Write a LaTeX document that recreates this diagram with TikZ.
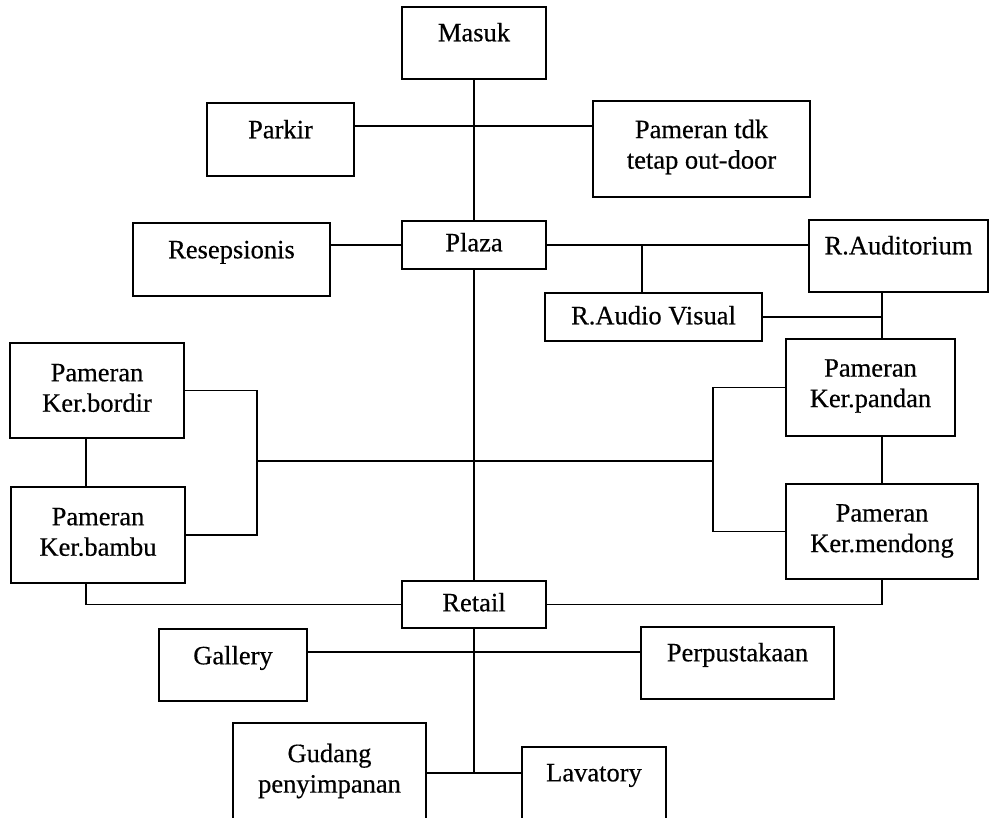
\documentclass[tikz,border=0pt]{standalone}
\usepackage{fontspec}
\setmainfont{Liberation Serif}[FakeBold=0.4]
\begin{document}
\begin{tikzpicture}[x=1pt,y=-1pt,
  room/.style 2 args={draw=black, line width=1.9pt, inner sep=0pt, outer sep=0pt,
    minimum width=#1pt, minimum height=#2pt},
  oneline/.style={inner sep=0pt, font=\fontsize{26.5}{30.5}\selectfont,
    text height=0.68em, text depth=0.22em},
  twoline/.style={inner sep=0pt, align=center, font=\fontsize{26.5}{30.5}\selectfont},
  link/.style={line width=1.9pt}]

\useasboundingbox (0,0) rectangle (993,818);
\fill[white] (0,0) rectangle (993,818);
\begin{scope}
\clip (0,0) rectangle (993,818);

% rooms
\node[room={144}{72}]  (masuk)       at (474,43)    {};
\node[room={147}{73}]  (parkir)      at (280.5,139.5) {};
\node[room={217}{96}]  (outdoor)     at (701.5,149) {};
\node[room={144}{48}]  (plaza)       at (474,245)   {};
\node[room={197}{73}]  (resepsionis) at (231.5,259.5) {};
\node[room={179}{72}]  (auditorium)  at (898.5,256) {};
\node[room={217}{48}]  (audiovisual) at (653.5,317) {};
\node[room={169}{97}]  (pandan)      at (870.5,387.5) {};
\node[room={192}{95}]  (mendong)     at (882,531.5) {};
\node[room={174}{95}]  (bordir)      at (97,390.5)  {};
\node[room={174}{96}]  (bambu)       at (98,535)    {};
\node[room={144}{47}]  (retail)      at (474,604.5) {};
\node[room={148}{72}]  (gallery)     at (233,665)   {};
\node[room={193}{72}]  (perpus)      at (737.5,663) {};
\node[room={193}{107}] (gudang)      at (329.5,776.5) {};
\node[room={144}{83}]  (lavatory)    at (594,788.5) {};

% room names
\node[oneline] (masuk-t)       at ([yshift=-32pt]masuk.north)       {Masuk};
\node[oneline] (parkir-t)      at ([yshift=-33pt]parkir.north)      {Parkir};
\node[twoline] (outdoor-t)     at ([yshift=-46pt]outdoor.north)     {Pameran tdk\\tetap out-door};
\node[oneline] (plaza-t)       at ([yshift=-28pt]plaza.north)       {Plaza};
\node[oneline] (resepsionis-t) at ([yshift=-33pt]resepsionis.north) {Resepsionis};
\node[oneline] (auditorium-t)  at ([yshift=-32pt]auditorium.north)  {R.Auditorium};
\node[oneline] (audiovisual-t) at ([yshift=-29pt]audiovisual.north) {R.Audio Visual};
\node[twoline] (pandan-t)      at ([yshift=-47pt]pandan.north)      {Pameran\\Ker.pandan};
\node[twoline] (mendong-t)     at ([yshift=-47pt]mendong.north)     {Pameran\\Ker.mendong};
\node[twoline] (bordir-t)      at ([yshift=-45pt]bordir.north)      {Pameran\\Ker.bordir};
\node[twoline] (bambu-t)       at ([yshift=-45pt]bambu.north)       {Pameran\\Ker.bambu};
\node[oneline] (retail-t)      at ([yshift=-28pt]retail.north)      {Retail};
\node[oneline] (gallery-t)     at ([yshift=-33pt]gallery.north)     {Gallery};
\node[oneline] (perpus-t)      at ([yshift=-32pt]perpus.north)      {Perpustakaan};
\node[twoline] (gudang-t)      at ([yshift=-48pt]gudang.north)      {Gudang\\penyimpanan};
\node[oneline] (lavatory-t)    at ([yshift=-32pt]lavatory.north)    {Lavatory};

% junctions and guide lines
\coordinate (jpark)  at (474,126);
\coordinate (avx)    at (642,245);
\coordinate (rv)     at (882,0);
\coordinate (lv)     at (86,0);
\coordinate (lb)     at (257,461);
\coordinate (rb)     at (713,461);
\coordinate (jgal)   at (474,652);
\coordinate (jstore) at (474,773);

% connections
\draw[link] (masuk.south) -- (plaza.north);
\draw[link] (parkir.east |- jpark) -- (outdoor.west |- jpark);
\draw[link] (resepsionis.east |- plaza.west) -- (plaza.west);
\draw[link] (plaza.east) -- (plaza.east -| auditorium.west);
\draw[link] (avx) -- (avx |- audiovisual.north);
\draw[link] (rv |- auditorium.south) -- (rv |- pandan.north);
\draw[link] (audiovisual.east) -- (audiovisual.east -| rv);
\draw[link] (rv |- pandan.south) -- (rv |- mendong.north);
\draw[link] (lv |- bordir.south) -- (lv |- bambu.north);
\draw[link] (bordir.east) -- (bordir.east -| lb) -- (bambu.east -| lb) -- (bambu.east);
\draw[link] (lb) -- (rb);
\draw[link] (pandan.west) -- (pandan.west -| rb) -- (mendong.west -| rb) -- (mendong.west);
\draw[link] (plaza.south) -- (retail.north);
\draw[link] (lv |- bambu.south) -- (lv |- retail.west) -- (retail.west);
\draw[link] (mendong.south) -- (mendong.south |- retail.east) -- (retail.east);
\draw[link] (gallery.east |- jgal) -- (perpus.west |- jgal);
\draw[link] (retail.south) -- (jstore);
\draw[link] (gudang.east |- jstore) -- (lavatory.west |- jstore);
\end{scope}
\end{tikzpicture}
\end{document}
